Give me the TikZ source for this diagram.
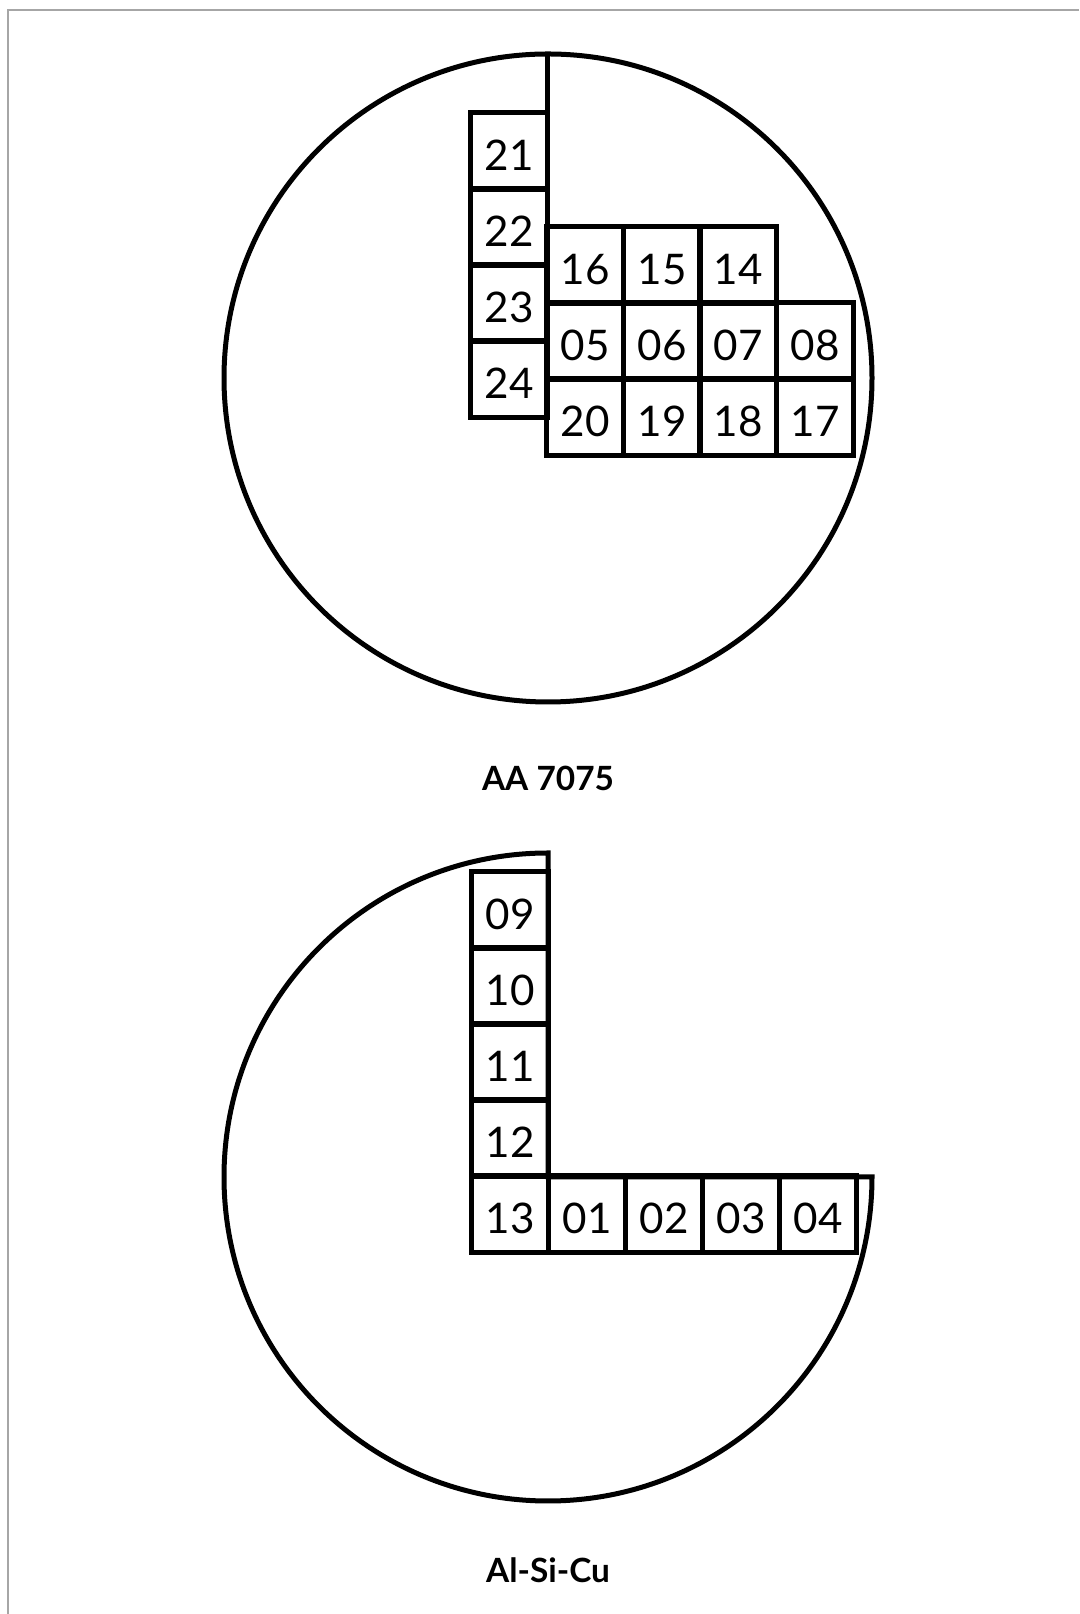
\documentclass[tikz,border=0pt]{standalone}
\usepackage{fontspec}
\setmainfont{Lato}
\usepackage{tikz}
\usepackage{xcolor}

\begin{document}
\begin{tikzpicture}[x=0.2mm, y=0.2mm, line width=1mm,
        cell/.style={draw, rectangle, minimum size=15.25mm, inner sep=0pt,
            text height=8mm, text depth=0pt, font=\fontsize{24}{28}\selectfont},
        caption/.style={font=\fontsize{19}{22}\selectfont\bfseries}]
    \useasboundingbox (0,0) rectangle (1079,1614);

    % page frame (only top and left edges show)
    \draw[gray!70, line width=0.4mm] (1079,1604) -- (8,1604) -- (8,0);

    % upper wafer
    \coordinate (o1) at (548,1236);
    \coordinate (top1) at (547,1559);
    \draw (o1) circle[radius=324];

        \node[cell] (s21) at (509, 1463) {21};
        \node[cell] (s22) at (509, 1387) {22};
        \node[cell] (s23) at (509, 1311) {23};
        \node[cell] (s24) at (509, 1235) {24};

        \node[cell] (s16) at (585, 1349) {16};
        \node[cell] (s15) at (662, 1349) {15};
        \node[cell] (s14) at (738, 1349) {14};

        \node[cell] (s05) at (585, 1273) {05};
        \node[cell] (s06) at (662, 1273) {06};
        \node[cell] (s07) at (738, 1273) {07};
        \node[cell] (s08) at (815, 1273) {08};

        \node[cell] (s20) at (585, 1197) {20};
        \node[cell] (s19) at (662, 1197) {19};
        \node[cell] (s18) at (738, 1197) {18};
        \node[cell] (s17) at (815, 1197) {17};

    \draw (top1) -- (top1 |- s16.north);

    \node[caption] (aa) at (548, 836) {AA 7075};

    % lower wafer, upper right quarter cut away
    \coordinate (o2) at (548,437);
    \draw[line join=miter] (o2) -- ++(324,0) arc[start angle=0, end angle=-270, radius=324] -- cycle;

        \node[cell] (s09) at (510, 704) {09};
        \node[cell] (s10) at (510, 628) {10};
        \node[cell] (s11) at (510, 552) {11};
        \node[cell] (s12) at (510, 476) {12};
        \node[cell] (s13) at (510, 400) {13};

        \node[cell] (s01) at (587, 400) {01};
        \node[cell] (s02) at (664, 400) {02};
        \node[cell] (s03) at (741, 400) {03};
        \node[cell] (s04) at (818, 400) {04};

    \node[caption] (alsi) at (548, 44) {Al-Si-Cu};
\end{tikzpicture}
\end{document}
